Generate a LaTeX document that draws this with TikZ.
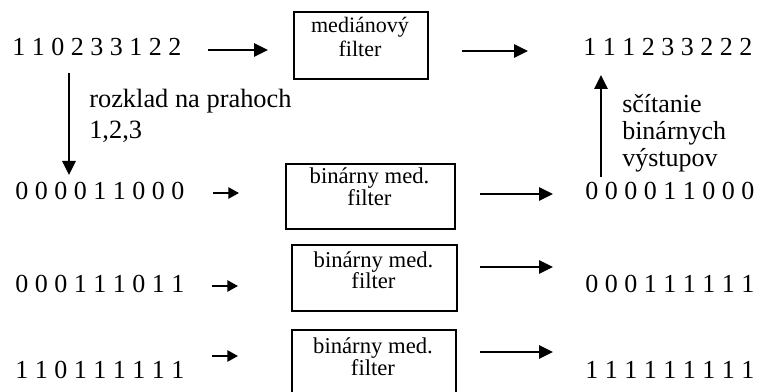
\documentclass[tikz,border=0pt]{standalone}
\usepackage{fontspec}
\setmainfont{Liberation Serif}
\usetikzlibrary{arrows.meta}
\begin{document}
\begin{tikzpicture}[x=0.75pt,y=-0.75pt,
  seq/.style={anchor=base west, inner sep=0pt, font=\fontsize{19.5}{24}\selectfont},
  lbl/.style={anchor=base west, inner sep=0pt, align=left},
  fbox/.style={draw, line width=1.3pt, anchor=north west, inner sep=0pt},
  ftxt/.style={anchor=base, inner sep=0pt, align=center},
  bigarr/.style={line width=1.2pt, -{Triangle[length=10.5pt,width=10pt]}},
  smallarr/.style={line width=1.2pt, -{Triangle[length=8pt,width=8.5pt]}}]
\useasboundingbox (0,0) rectangle (761,392);

% input and output sequences
\node[seq] (in0)  at (12,56)  {1 1 0 2 3 3 1 2 2};
\node[seq] (out0) at (583,56) {1 1 1 2 3 3 2 2 2};
\node[seq] (in1)  at (15,200) {0 0 0 0 1 1 0 0 0};
\node[seq] (out1) at (585,200) {0 0 0 0 1 1 0 0 0};
\node[seq] (in2)  at (15,292) {0 0 0 1 1 1 0 1 1};
\node[seq] (out2) at (585,292) {0 0 0 1 1 1 1 1 1};
\node[seq] (in3)  at (15,378) {1 1 0 1 1 1 1 1 1};
\node[seq] (out3) at (585,378) {1 1 1 1 1 1 1 1 1};

% filter boxes (text anchored on the baseline of its last line)
\node[fbox, minimum width=100.5pt, minimum height=50.25pt] (mf) at (293,11) {};
\node[ftxt, font=\fontsize{16.5}{18}\selectfont] (mft) at (360,57) {mediánový\\filter};
\node[fbox, minimum width=126.75pt, minimum height=48.75pt] (bf1) at (285,163) {};
\node[ftxt, font=\fontsize{17}{17.1}\selectfont] (bf1t) at (369.5,206) {binárny med.\\filter};
\node[fbox, minimum width=123.75pt, minimum height=49.5pt] (bf2) at (291,244) {};
\node[ftxt, font=\fontsize{17}{16.5}\selectfont] (bf2t) at (373.5,289) {binárny med.\\filter};
\node[fbox, minimum width=123pt, minimum height=49.5pt] (bf3) at (291,329) {};
\node[ftxt, font=\fontsize{17}{16.5}\selectfont] (bf3t) at (373,375) {binárny med.\\filter};

% side labels
\node[lbl, font=\fontsize{19.8}{23.25}\selectfont] (split) at (89,139) {rozklad na prahoch\\1,2,3};
\node[lbl, font=\fontsize{19.5}{20.25}\selectfont] (sum) at (622,167) {sčítanie\\binárnych\\výstupov};

% arrow end points
\coordinate (a0s) at (208,50);  \coordinate (a0e) at (268,50);
\coordinate (b0s) at (462,51);  \coordinate (b0e) at (528,51);
\coordinate (ds)  at (69,73);   \coordinate (de)  at (69,175);
\coordinate (us)  at (601,177); \coordinate (ue)  at (601,75);
\coordinate (a1s) at (213,193); \coordinate (a1e) at (239,193);
\coordinate (b1s) at (480,194); \coordinate (b1e) at (553,194);
\coordinate (a2s) at (212,286); \coordinate (a2e) at (238,286);
\coordinate (b2s) at (480,267); \coordinate (b2e) at (553,267);
\coordinate (a3s) at (212,356); \coordinate (a3e) at (238,356);
\coordinate (b3s) at (480,352); \coordinate (b3e) at (553,352);

\draw[bigarr] (a0s) -- (a0e);
\draw[bigarr] (b0s) -- (b0e);
\draw[bigarr] (ds) -- (de);
\draw[bigarr] (us) -- (ue);
\draw[smallarr] (a1s) -- (a1e);
\draw[bigarr] (b1s) -- (b1e);
\draw[smallarr] (a2s) -- (a2e);
\draw[bigarr] (b2s) -- (b2e);
\draw[smallarr] (a3s) -- (a3e);
\draw[bigarr] (b3s) -- (b3e);
\end{tikzpicture}
\end{document}
